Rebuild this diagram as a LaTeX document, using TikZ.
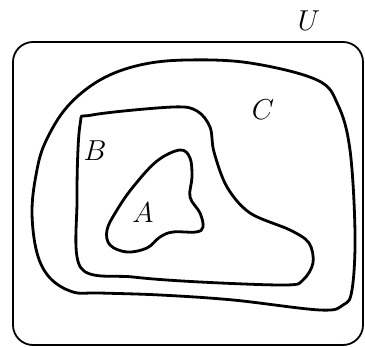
\documentclass[tikz,border=0pt]{standalone}
\usetikzlibrary{positioning}

\begin{document}
\begin{tikzpicture}[x=0.5pt,y=-0.5pt,
    setline/.style={line width=1.4pt,line join=round},
    setlab/.style={inner sep=0pt,font=\Large}]
  \useasboundingbox (0,0) rectangle (365,347);
  % universe
  \draw[line width=0.9pt,rounded corners=10pt] (13,42) rectangle (363,345);
  \node[setlab] (labU) at (309,21) {$U$};
  % C
  \draw[setline] plot[smooth cycle,tension=0.6] coordinates {
    (187,60) (250,63) (317,80) (338,105) (350,150) (355,233) (352,290)
    (343,305) (320,310) (233,300) (160,295) (100,293) (73,292) (50,278)
    (37,253) (32,213) (36,175) (45,143) (67,107) (100,80) (140,65)};
  \node[setlab] (labC) at (263,110) {$C$};
  % B
  \draw[setline] plot[smooth cycle,tension=0.55] coordinates {
    (92,115) (173,107) (197,111) (210,127) (214,152) (227,187) (250,213)
    (290,230) (309,243) (313,263) (303,280) (286,285) (200,282) (133,277)
    (81,268) (77,200) (80,125)};
  \node[setlab] (labB) at (95,151) {$B$};
  % A
  \draw[setline] plot[smooth cycle,tension=0.6] coordinates {
    (180,150) (190,158) (192,177) (190,197) (200,213) (203,227) (196,232)
    (173,232) (160,237) (147,248) (127,252) (110,245) (107,230) (117,210)
    (133,187) (157,161)};
  \node[setlab] (labA) at (143,213) {$A$};
\end{tikzpicture}
\end{document}
